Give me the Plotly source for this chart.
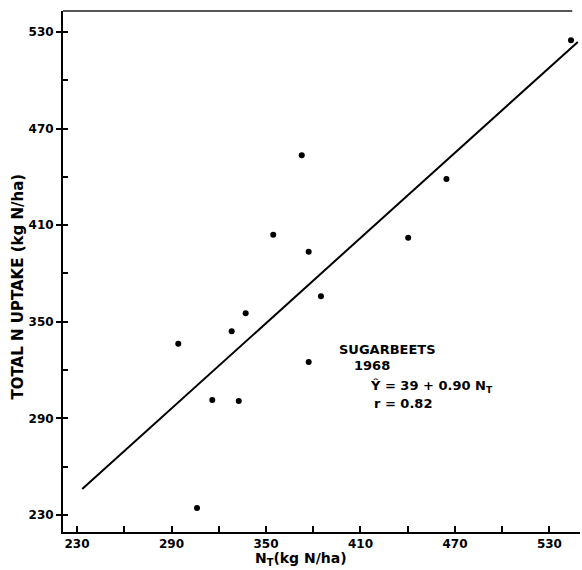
import plotly.graph_objects as go

# Data
n_t = [372.7, 354.6, 377.1, 384.9, 337.1, 328.2, 294.3, 377.1, 315.9, 332.7, 306.2, 440.3, 464.6, 543.7]
n_uptake = [453.4, 404.1, 393.5, 365.8, 355.3, 344.1, 336.4, 325.0, 301.4, 300.8, 234.3, 402.2, 438.7, 524.8]

# Regression line (Y = 39 + 0.90 N_T) as drawn: end points
line_x = [233.3, 548.0]
line_y = [246.1, 523.8]

tick_vals = [230, 290, 350, 410, 470, 530]
tick_text = [str(v) for v in tick_vals]

FONT = "DejaVu Sans"
TICK_FONT = dict(family=FONT, size=12, weight="bold", color="black")
TXT = dict(family=FONT, size=13, weight="bold", color="black")
YTITLE = dict(family=FONT, size=15, weight="bold", color="black")
XTITLE = dict(family=FONT, size=14, weight="bold", color="black")

fig = go.Figure()
fig.add_trace(go.Scatter(x=line_x, y=line_y, mode="lines",
                         line=dict(color="black", width=2), showlegend=False,
                         hoverinfo="skip"))
fig.add_trace(go.Scatter(x=n_t, y=n_uptake, mode="markers",
                         marker=dict(color="black", size=6), showlegend=False))

fig.update_layout(
    width=582, height=570,
    margin=dict(l=63, r=2, t=11, b=38),
    paper_bgcolor="white", plot_bgcolor="white",
    font=dict(family=FONT, color="black", size=13),
    xaxis=dict(range=[221.1, 549.4], tickvals=tick_vals, ticktext=tick_text,
               showgrid=False, zeroline=False, showline=True, linecolor="black",
               linewidth=2, ticks="inside", ticklen=6, tickwidth=1.5, tickcolor="black",
               minor=dict(ticks="inside", dtick=30, tick0=230, ticklen=6,
                          tickwidth=1.5, tickcolor="black", showgrid=False),
               tickfont=TICK_FONT, automargin=False),
    yaxis=dict(range=[219.4, 543], tickvals=tick_vals, ticktext=tick_text,
               showgrid=False, zeroline=False, showline=True, linecolor="black",
               linewidth=2, ticks="outside", ticklen=5, tickwidth=1.5, tickcolor="black",
               minor=dict(ticks="inside", dtick=30, tick0=230, ticklen=5,
                          tickwidth=1.5, tickcolor="black", showgrid=False),
               tickfont=TICK_FONT, automargin=False),
)

# top border line
fig.add_shape(type="line", xref="paper", yref="paper", x0=0, x1=0.985, y0=1, y1=1,
              line=dict(color="#555555", width=2))

annotations = [
    dict(text="N<sub>T</sub>(kg N/ha)", xref="x", yref="paper", x=372, y=-0.03,
         xanchor="center", yanchor="top", showarrow=False, font=XTITLE),
    dict(text="TOTAL N UPTAKE (kg N/ha)", xref="paper", yref="y", x=-0.088, y=371.6,
         xanchor="center", yanchor="middle", textangle=-90, showarrow=False,
         font=YTITLE),
    dict(text="SUGARBEETS", xref="x", yref="y", x=395.1, y=332.8, xanchor="left",
         yanchor="middle", showarrow=False, font=TXT),
    dict(text="1968", xref="x", yref="y", x=404.6, y=322.6, xanchor="left",
         yanchor="middle", showarrow=False, font=TXT),
    dict(text="Ŷ = 39 + 0.90 N<sub>T</sub>", xref="x", yref="y", x=414.8, y=309.5,
         xanchor="left", yanchor="middle", showarrow=False, font=TXT),
    dict(text="r = 0.82", xref="x", yref="y", x=417.3, y=299.2, xanchor="left",
         yanchor="middle", showarrow=False, font=TXT),
]
fig.update_layout(annotations=annotations)

fig.write_html("out.html", config={"displayModeBar": False},
               post_script="document.body.style.margin='0';document.body.style.overflow='hidden';")
